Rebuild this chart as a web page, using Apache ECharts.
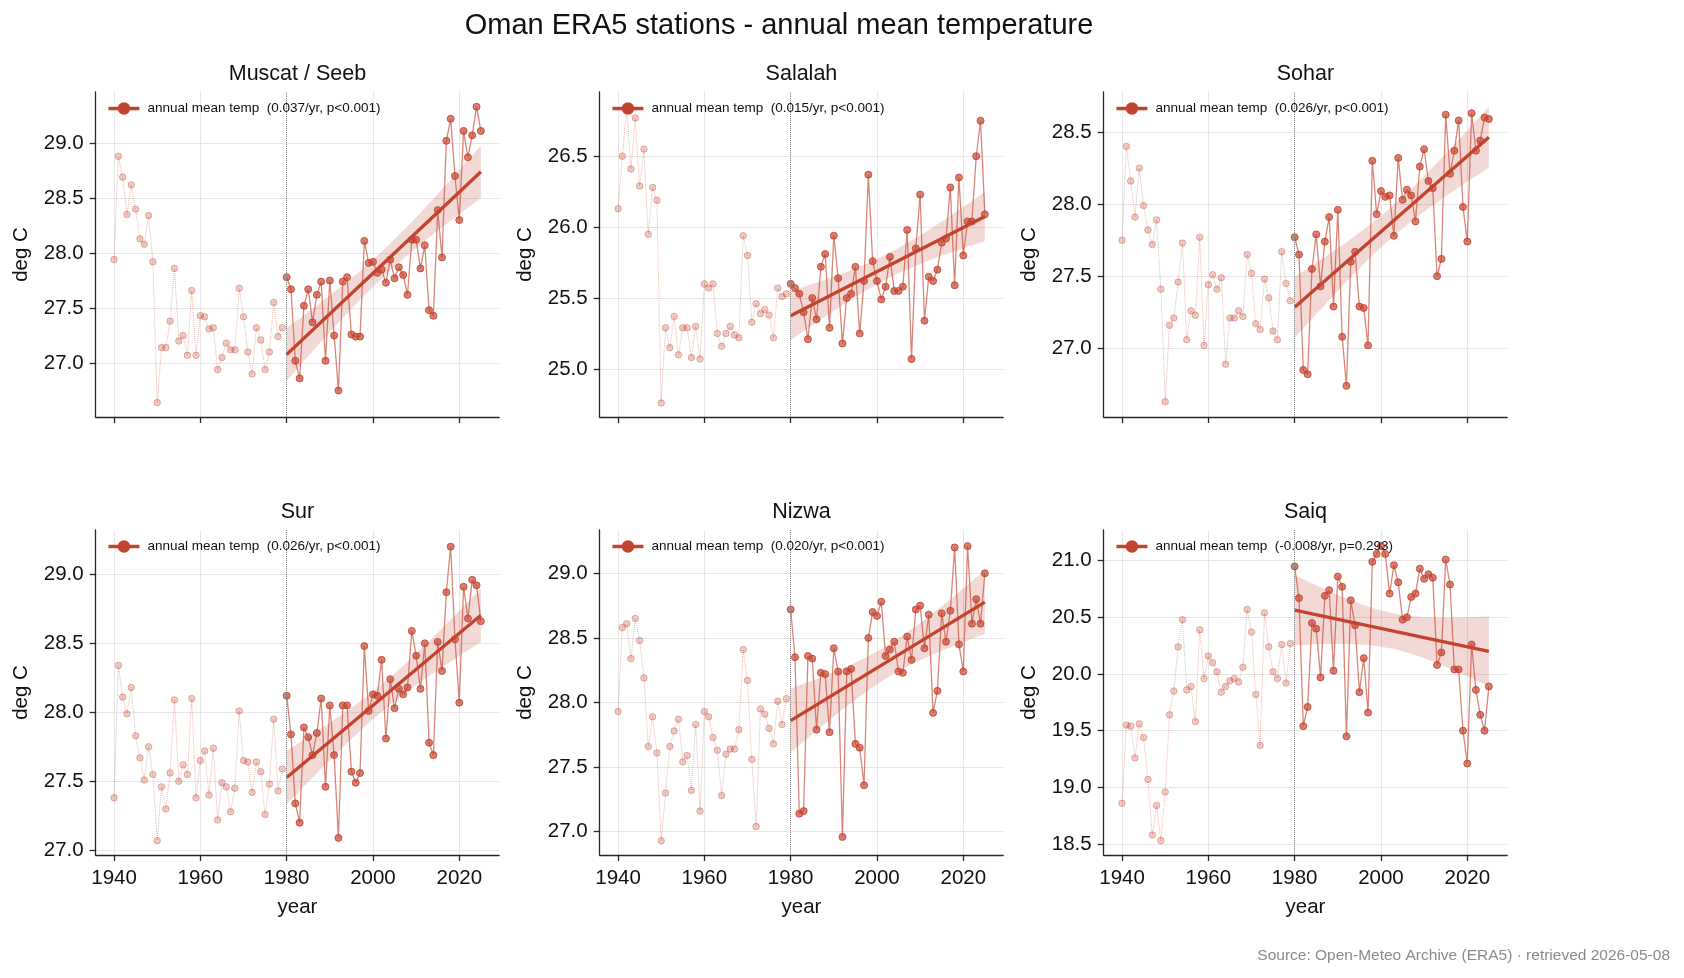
<!DOCTYPE html>
<html lang="en">
<head>
<meta charset="UTF-8">
<title>Oman ERA5 stations - annual mean temperature</title>
<style>
    html, body {margin: 0; padding: 0; background: #fff;}
    #chart {width: 1684px; height: 978px;}
</style>
</head>
<body>
<div id="chart"></div>
<script src="https://cdn.jsdelivr.net/npm/echarts@6/dist/echarts.min.js"></script>
<script>
    // ---- data ----
    const firstYear = 1940
    const breakYear = 1980
    const lastYear = 2025

    const stationNames = ['Muscat / Seeb', 'Salalah', 'Sohar', 'Sur', 'Nizwa', 'Saiq']
    const trendLabels = [
        '(0.037/yr, p<0.001)',
        '(0.015/yr, p<0.001)',
        '(0.026/yr, p<0.001)',
        '(0.026/yr, p<0.001)',
        '(0.020/yr, p<0.001)',
        '(-0.008/yr, p=0.293)'
    ]
    const xTicks = [1940, 1960, 1980, 2000, 2020]
    const yTicks = [
        [27.0, 27.5, 28.0, 28.5, 29.0],
        [25.0, 25.5, 26.0, 26.5],
        [27.0, 27.5, 28.0, 28.5],
        [27.0, 27.5, 28.0, 28.5, 29.0],
        [27.0, 27.5, 28.0, 28.5, 29.0],
        [18.5, 19.0, 19.5, 20.0, 20.5, 21.0]
    ]

    // 1940-2025, one value per year
    const muscatTemp = [
        27.94, 28.88, 28.69, 28.35, 28.62, 28.40, 28.13, 28.08, 28.34, 27.92,
        26.64, 27.14, 27.14, 27.38, 27.86, 27.20, 27.25, 27.07, 27.66, 27.07,
        27.43, 27.42, 27.31, 27.32, 26.94, 27.05, 27.18, 27.12, 27.12, 27.68,
        27.42, 27.10, 26.90, 27.32, 27.21, 26.94, 27.10, 27.55, 27.24, 27.32,
        27.78, 27.67, 27.02, 26.86, 27.52, 27.67, 27.37, 27.62, 27.74, 27.02,
        27.75, 27.25, 26.75, 27.74, 27.78, 27.26, 27.24, 27.24, 28.11, 27.91,
        27.92, 27.82, 27.85, 27.73, 27.94, 27.77, 27.87, 27.80, 27.62, 28.12,
        28.12, 27.86, 28.07, 27.48, 27.43, 28.39, 27.96, 29.02, 29.22, 28.70,
        28.30, 29.11, 28.87, 29.07, 29.33, 29.11
    ]
    const salalahTemp = [
        26.13, 26.50, 26.84, 26.41, 26.77, 26.29, 26.55, 25.95, 26.28, 26.19,
        24.76, 25.29, 25.15, 25.37, 25.10, 25.29, 25.29, 25.08, 25.30, 25.07,
        25.60, 25.57, 25.60, 25.25, 25.16, 25.25, 25.30, 25.24, 25.22, 25.94,
        25.80, 25.33, 25.46, 25.39, 25.42, 25.38, 25.22, 25.57, 25.51, 25.53,
        25.60, 25.57, 25.53, 25.40, 25.21, 25.50, 25.35, 25.72, 25.81, 25.29,
        25.94, 25.64, 25.18, 25.50, 25.53, 25.72, 25.25, 25.62, 26.37, 25.76,
        25.62, 25.49, 25.58, 25.79, 25.55, 25.55, 25.58, 25.98, 25.07, 25.85,
        26.23, 25.34, 25.65, 25.62, 25.70, 25.89, 25.92, 26.28, 25.59, 26.35,
        25.80, 26.04, 26.04, 26.50, 26.75, 26.09
    ]
    const soharTemp = [
        27.75, 28.40, 28.16, 27.91, 28.25, 27.99, 27.82, 27.72, 27.89, 27.41,
        26.63, 27.16, 27.21, 27.46, 27.73, 27.06, 27.26, 27.23, 27.77, 27.02,
        27.44, 27.51, 27.41, 27.49, 26.89, 27.21, 27.21, 27.26, 27.22, 27.65,
        27.52, 27.17, 27.13, 27.48, 27.35, 27.12, 27.06, 27.67, 27.45, 27.33,
        27.77, 27.65, 26.85, 26.82, 27.55, 27.79, 27.43, 27.74, 27.91, 27.29,
        27.96, 27.08, 26.74, 27.60, 27.67, 27.29, 27.28, 27.02, 28.30, 27.93,
        28.09, 28.05, 28.06, 27.78, 28.32, 28.03, 28.10, 28.06, 27.88, 28.26,
        28.38, 28.16, 28.11, 27.50, 27.62, 28.62, 28.21, 28.37, 28.58, 27.98,
        27.74, 28.63, 28.37, 28.44, 28.60, 28.59
    ]
    const surTemp = [
        27.38, 28.34, 28.11, 27.99, 28.18, 27.83, 27.67, 27.51, 27.75, 27.55,
        27.07, 27.46, 27.30, 27.56, 28.09, 27.50, 27.62, 27.55, 28.10, 27.38,
        27.65, 27.72, 27.40, 27.74, 27.22, 27.49, 27.46, 27.28, 27.45, 28.01,
        27.65, 27.64, 27.42, 27.64, 27.57, 27.26, 27.48, 27.95, 27.43, 27.59,
        28.12, 27.84, 27.34, 27.20, 27.89, 27.82, 27.69, 27.85, 28.10, 27.46,
        28.05, 27.69, 27.09, 28.05, 28.05, 27.57, 27.49, 27.56, 28.48, 28.01,
        28.13, 28.12, 28.38, 27.81, 28.24, 28.03, 28.17, 28.13, 28.18, 28.59,
        28.41, 28.17, 28.50, 27.78, 27.69, 28.51, 28.30, 28.87, 29.20, 28.53,
        28.07, 28.91, 28.68, 28.96, 28.92, 28.66
    ]
    const nizwaTemp = [
        27.93, 28.58, 28.61, 28.34, 28.65, 28.48, 28.19, 27.66, 27.89, 27.61,
        26.93, 27.30, 27.66, 27.78, 27.87, 27.54, 27.59, 27.32, 27.83, 27.16,
        27.93, 27.89, 27.73, 27.63, 27.28, 27.60, 27.64, 27.64, 27.79, 28.41,
        28.17, 27.56, 27.04, 27.95, 27.91, 27.80, 27.68, 28.01, 27.83, 28.03,
        28.72, 28.35, 27.14, 27.16, 28.36, 28.34, 27.79, 28.23, 28.22, 27.77,
        28.42, 28.24, 26.96, 28.24, 28.26, 27.68, 27.65, 27.36, 28.50, 28.70,
        28.67, 28.78, 28.36, 28.41, 28.47, 28.24, 28.23, 28.51, 28.33, 28.72,
        28.75, 28.42, 28.68, 27.92, 28.09, 28.69, 28.47, 28.71, 29.20, 28.45,
        28.24, 29.21, 28.61, 28.80, 28.61, 29.00
    ]
    const saiqTemp = [
        18.86, 19.55, 19.54, 19.26, 19.56, 19.44, 19.07, 18.58, 18.84, 18.53,
        18.96, 19.64, 19.85, 20.24, 20.48, 19.86, 19.89, 19.58, 20.39, 19.96,
        20.16, 20.10, 20.02, 19.84, 19.89, 19.94, 19.96, 19.93, 20.06, 20.57,
        20.37, 19.82, 19.37, 20.54, 20.24, 20.02, 19.96, 20.26, 19.92, 20.27,
        20.95, 20.67, 19.54, 19.71, 20.45, 20.40, 19.97, 20.69, 20.74, 20.03,
        20.86, 20.77, 19.45, 20.65, 20.43, 19.84, 20.14, 19.66, 20.99, 21.06,
        21.13, 21.06, 20.71, 20.96, 20.81, 20.48, 20.50, 20.68, 20.71, 20.93,
        20.84, 20.88, 20.85, 20.08, 20.19, 21.01, 20.79, 20.04, 20.04, 19.50,
        19.21, 20.26, 19.86, 19.64, 19.50, 19.89
    ]
    const stationTemps = [muscatTemp, salalahTemp, soharTemp, surTemp, nizwaTemp, saiqTemp]

    // ---- layout / style ----
    const FONT = '"Liberation Sans", Arial, Helvetica, sans-serif'
    const RED = '#c4432f'
    const AXIS = '#262626'
    const panelLeft = [95.7, 599.7, 1103.7]
    const panelTop = [92, 530]
    const panelW = 403.5
    const panelH = 325
    const xLimits = [1935.75, 2029.25]
    const yLimits = [
        [26.509, 29.464],
        [24.661, 26.953],
        [26.524, 28.777],
        [26.966, 29.321],
        [26.820, 29.335],
        [18.403, 21.271]
    ]

    /**
     * 最小二乘趋势线 + 95% 置信带
     */
    function trendBand(xs, ys) {
        const n = xs.length
        const mx = xs.reduce((a, b) => a + b, 0) / n
        const my = ys.reduce((a, b) => a + b, 0) / n
        let sxx = 0, sxy = 0
        for (let i = 0; i < n; i++) {
            sxx += (xs[i] - mx) * (xs[i] - mx)
            sxy += (xs[i] - mx) * (ys[i] - my)
        }
        const b = sxy / sxx
        const a = my - b * mx
        let sse = 0
        for (let i = 0; i < n; i++) {
            const r = ys[i] - (a + b * xs[i])
            sse += r * r
        }
        const s = Math.sqrt(sse / (n - 2))
        const t = 2.015
        return xs.map(x => {
            const f = a + b * x
            const h = t * s * Math.sqrt(1 / n + (x - mx) * (x - mx) / sxx)
            return {x: x, fit: f, lo: f - h, hi: f + h}
        })
    }

    const years = []
    for (let y = firstYear; y <= lastYear; y++) years.push(y)

    let grids = [], xAxes = [], yAxes = [], series = [], legends = [], graphics = []

    stationNames.forEach((station, i) => {
        const row = Math.floor(i / 3)
        const col = i % 3
        const left = panelLeft[col]
        const top = panelTop[row]
        const temps = stationTemps[i]
        const label = 'annual mean temp  ' + trendLabels[i]

        const early = [], late = []
        years.forEach((yr, k) => {
            if (yr < breakYear) early.push([yr, temps[k]])
            else late.push([yr, temps[k]])
        })
        const band = trendBand(late.map(p => p[0]), late.map(p => p[1]))

        grids.push({left: left, top: top, width: panelW, height: panelH, outerBoundsMode: 'none'})

        xAxes.push({
            type: 'value',
            gridIndex: i,
            min: xLimits[0],
            max: xLimits[1],
            name: row === 1 ? 'year' : '',
            nameLocation: 'middle',
            nameGap: 42,
            nameTextStyle: {fontSize: 20.5, color: '#111', fontFamily: FONT},
            axisLine: {show: true, onZero: false, lineStyle: {color: AXIS, width: 1.3}},
            axisTick: {show: true, length: 6, customValues: xTicks, lineStyle: {color: AXIS, width: 1.3}},
            axisLabel: {
                show: row === 1, customValues: xTicks, margin: 13,
                fontSize: 20.5, color: '#111', fontFamily: FONT,
                formatter: v => String(v)
            },
            splitLine: {show: true, lineStyle: {color: '#e6e6e6', width: 1}}
        })

        yAxes.push({
            type: 'value',
            gridIndex: i,
            min: yLimits[i][0],
            max: yLimits[i][1],
            name: 'deg C',
            nameLocation: 'middle',
            nameGap: 64,
            nameTextStyle: {fontSize: 20.5, color: '#111', fontFamily: FONT},
            axisLine: {show: true, onZero: false, lineStyle: {color: AXIS, width: 1.3}},
            axisTick: {show: true, length: 6, customValues: yTicks[i], lineStyle: {color: AXIS, width: 1.3}},
            axisLabel: {
                customValues: yTicks[i], margin: 12,
                fontSize: 20.5, color: '#111', fontFamily: FONT,
                formatter: v => v.toFixed(1)
            },
            splitLine: {show: true, lineStyle: {color: '#e6e6e6', width: 1}}
        })

        // 置信带（多边形，坐标经由坐标轴换算）
        series.push({
            type: 'custom', xAxisIndex: i, yAxisIndex: i, z: 1, silent: true,
            data: band.map(p => [p.x, p.lo, p.hi]),
            encode: {x: 0, y: [1, 2]},
            renderItem: (params, api) => {
                if (params.dataIndex !== 0) return null
                const upper = band.map(p => api.coord([p.x, p.hi]))
                const lower = band.map(p => api.coord([p.x, p.lo])).reverse()
                return {
                    type: 'polygon',
                    shape: {points: upper.concat(lower)},
                    style: {fill: 'rgba(196, 67, 47, 0.2)'}
                }
            }
        })

        // 1940-1979 淡色虚线
        series.push({
            type: 'line', xAxisIndex: i, yAxisIndex: i, z: 2,
            symbol: 'circle', symbolSize: 6.5,
            lineStyle: {type: 'dotted', width: 1, color: 'rgba(196, 67, 47, 0.38)'},
            itemStyle: {color: 'rgba(196, 67, 47, 0.28)', borderColor: 'rgba(196, 67, 47, 0.36)', borderWidth: 1},
            data: early,
            markLine: {
                silent: true,
                symbol: ['none', 'none'],
                label: {show: false},
                lineStyle: {color: '#8c8c8c', type: 'dotted', width: 1},
                data: [{xAxis: breakYear}]
            }
        })

        // 1980-2025
        series.push({
            name: label,
            type: 'line', xAxisIndex: i, yAxisIndex: i, z: 3,
            symbol: 'circle', symbolSize: 7,
            lineStyle: {width: 1.3, color: 'rgba(196, 67, 47, 0.65)'},
            itemStyle: {color: 'rgba(196, 67, 47, 0.68)', borderColor: 'rgba(196, 67, 47, 0.85)', borderWidth: 1},
            data: late
        })

        // 趋势线
        series.push({
            type: 'line', xAxisIndex: i, yAxisIndex: i, z: 4,
            symbol: 'none', silent: true,
            lineStyle: {width: 3.3, color: RED},
            data: [[band[0].x, band[0].fit], [band[band.length - 1].x, band[band.length - 1].fit]]
        })

        legends.push({
            left: left + 11,
            top: top + 9.5,
            padding: 0,
            itemWidth: 31,
            itemHeight: 13,
            selectedMode: false,
            textStyle: {fontSize: 13.5, color: '#111', fontFamily: FONT, padding: [0, 0, 0, 3]},
            data: [{
                name: label,
                itemStyle: {color: RED, borderColor: RED, opacity: 1},
                lineStyle: {color: RED, width: 3.5, opacity: 1}
            }]
        })

        graphics.push({
            type: 'text',
            x: left + panelW / 2,
            y: top - 18,
            style: {text: station, font: '21.5px ' + FONT, fill: '#111', align: 'center', verticalAlign: 'middle'}
        })
    })

    graphics.push({
        type: 'text', x: 779, y: 26,
        style: {text: 'Oman ERA5 stations - annual mean temperature', font: '29px ' + FONT, fill: '#111', align: 'center', verticalAlign: 'middle'}
    })
    graphics.push({
        type: 'text', x: 1670, y: 956,
        style: {text: 'Source: Open-Meteo Archive (ERA5) · retrieved 2026-05-08', font: '15.5px ' + FONT, fill: '#8a8a8a', align: 'right', verticalAlign: 'middle'}
    })

    let chart = echarts.init(document.getElementById('chart'), null, {renderer: 'canvas'})
    chart.setOption({
        animation: false,
        backgroundColor: '#ffffff',
        textStyle: {fontFamily: FONT},
        grid: grids,
        xAxis: xAxes,
        yAxis: yAxes,
        legend: legends,
        series: series,
        graphic: graphics
    })
</script>
</body>
</html>
